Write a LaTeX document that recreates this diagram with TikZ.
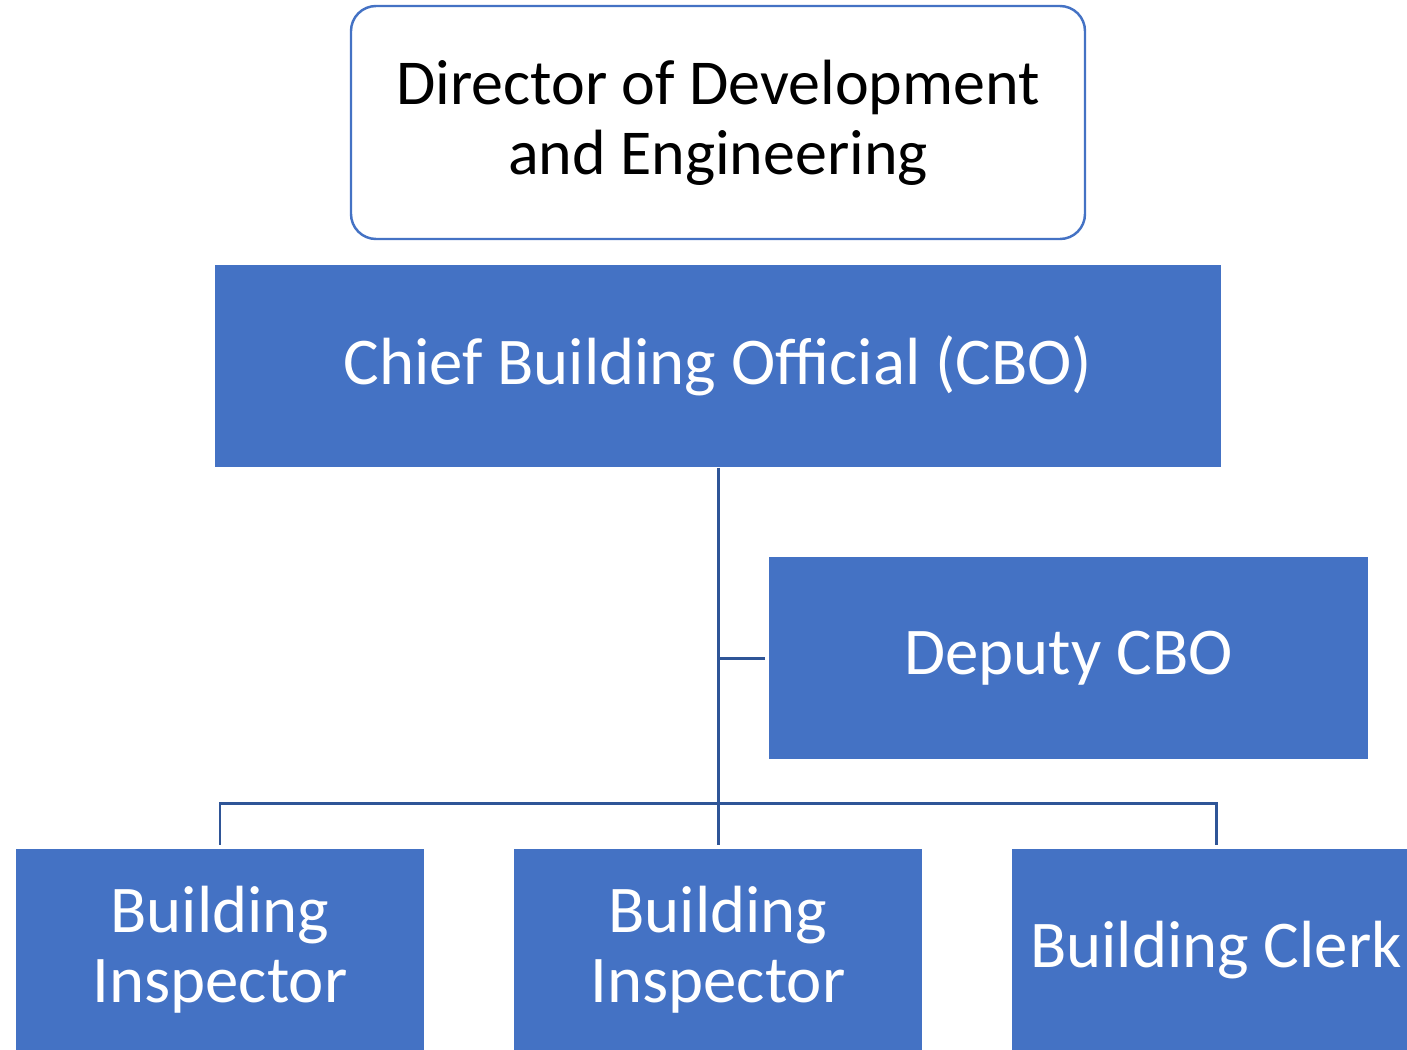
\documentclass[tikz,border=0pt]{standalone}
\usepackage{fontspec}
\setmainfont{Carlito}
\usetikzlibrary{calc}
\definecolor{boxblue}{HTML}{4472C4}
\definecolor{lineblue}{HTML}{2F5597}

\begin{document}
\begin{tikzpicture}[x=0.1mm,y=-0.1mm,
    unit/.style={fill=boxblue, text=white, inner sep=0pt, align=center,
        minimum height=2.02cm, font=\fontsize{19}{20}\selectfont},
    link/.style={lineblue, line width=0.85pt}]
    \useasboundingbox (0,0) rectangle (1407,1049);
    \clip (0,0) rectangle (1407,1049);
    \def\h{803};

    % boxes
    \node[draw=boxblue, line width=0.7pt, rounded corners=2.5mm, fill=white, inner sep=0pt,
        minimum width=7.34cm, minimum height=2.33cm, align=center,
        font=\fontsize{18.2}{20}\selectfont] at (718,122.5) (director) {Director of Development\\and Engineering};
    \node[unit, minimum width=10.06cm] at (718,366) (cbo) {Chief Building Official (CBO)};
    \node[unit, minimum width=5.99cm] at (1068.5,658) (deputy) {Deputy CBO};
    \node[unit, minimum width=4.08cm] at (220,950) (inspA) {Building\\Inspector};
    \node[unit, minimum width=4.08cm] at (718,950) (inspB) {Building\\Inspector};
    \node[unit, minimum width=4.08cm] at (1216,950) (clerk) {Building Clerk};

    % connectors
    \coordinate (hub) at (718,\h);
    \draw[link] (cbo.south) -- (hub);
    \draw[link] (cbo.south |- deputy.west) -- ([xshift=-0.3mm]deputy.west);
    \draw[link] (hub) -| ([yshift=0.3mm]inspA.north);
    \draw[link] (hub) -- ([yshift=0.3mm]inspB.north);
    \draw[link] (hub) -| ([yshift=0.3mm]clerk.north);
\end{tikzpicture}
\end{document}
